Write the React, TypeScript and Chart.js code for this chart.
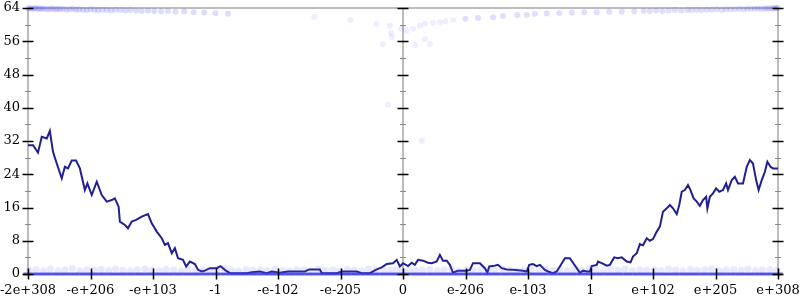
import React, { useEffect, useRef } from "react";
import { Chart, registerables } from "chart.js";

Chart.register(...registerables);

// Tick labels of the x axis (one per integer position -6..6)
const X_LABELS = ["-2e+308", "-e+206", "-e+103", "-1", "-e-102", "-e-205", "0", "e-206", "e-103", "1", "e+102", "e+205", "e+308"];

// Main line series
const LINE_X = [-6.0, -5.92, -5.84, -5.78, -5.7, -5.65, -5.6, -5.54, -5.46, -5.41, -5.36, -5.3, -5.23, -5.17, -5.09, -5.05, -4.98, -4.9, -4.82, -4.74, -4.66, -4.61, -4.55, -4.53, -4.45, -4.4, -4.34, -4.27, -4.18, -4.08, -4.02, -3.94, -3.86, -3.81, -3.76, -3.7, -3.65, -3.6, -3.52, -3.47, -3.41, -3.33, -3.28, -3.22, -3.17, -3.09, -2.98, -2.92, -2.85, -2.77, -2.5, -2.42, -2.29, -2.18, -2.1, -1.97, -1.84, -1.57, -1.5, -1.33, -1.3, -1.06, -0.98, -0.74, -0.66, -0.53, -0.42, -0.34, -0.26, -0.16, -0.1, -0.05, 0.0, 0.08, 0.14, 0.19, 0.24, 0.32, 0.4, 0.46, 0.54, 0.59, 0.64, 0.7, 0.75, 0.8, 0.88, 1.02, 1.07, 1.12, 1.23, 1.31, 1.35, 1.38, 1.44, 1.52, 1.58, 1.66, 1.76, 1.92, 1.98, 2.02, 2.08, 2.14, 2.19, 2.27, 2.32, 2.4, 2.46, 2.51, 2.59, 2.67, 2.72, 2.78, 2.83, 2.88, 2.94, 2.99, 3.02, 3.1, 3.12, 3.18, 3.26, 3.31, 3.38, 3.44, 3.5, 3.58, 3.64, 3.68, 3.74, 3.79, 3.84, 3.9, 3.95, 4.0, 4.06, 4.11, 4.16, 4.22, 4.27, 4.32, 4.38, 4.42, 4.46, 4.51, 4.56, 4.6, 4.65, 4.7, 4.75, 4.8, 4.85, 4.87, 4.91, 4.96, 5.01, 5.06, 5.12, 5.17, 5.2, 5.26, 5.31, 5.36, 5.44, 5.5, 5.55, 5.6, 5.65, 5.69, 5.74, 5.79, 5.83, 5.88, 5.92, 6.0];
const LINE_Y = [31.0, 31.0, 29.2, 33.0, 32.6, 34.4, 29.4, 26.6, 23.0, 25.8, 25.4, 27.3, 27.3, 25.4, 20.2, 21.8, 19.0, 22.2, 19.0, 17.4, 17.8, 18.2, 16.2, 12.6, 11.8, 11.0, 12.6, 13.0, 13.8, 14.4, 12.2, 10.2, 8.6, 7.0, 7.4, 5.0, 6.2, 3.8, 3.4, 1.8, 3.0, 2.4, 1.0, 0.6, 0.8, 1.4, 1.4, 1.9, 1.0, 0.2, 0.2, 0.4, 0.6, 0.2, 0.6, 0.3, 0.6, 0.6, 1.1, 1.1, 0.2, 0.2, 0.6, 0.6, 0.2, 0.2, 1.1, 1.6, 2.4, 2.6, 3.4, 1.8, 2.6, 1.9, 2.7, 2.2, 3.4, 3.2, 2.7, 2.6, 3.0, 4.6, 3.2, 3.2, 2.2, 0.3, 0.8, 0.8, 1.0, 2.6, 2.6, 1.4, 0.3, 1.8, 1.9, 2.2, 1.4, 1.1, 1.0, 0.8, 0.6, 2.2, 2.4, 1.9, 2.2, 1.0, 0.6, 0.2, 0.6, 1.8, 3.8, 3.8, 2.7, 1.4, 0.3, 0.8, 0.6, 0.6, 1.9, 2.2, 3.0, 2.6, 2.0, 2.2, 4.0, 3.8, 4.0, 3.0, 2.8, 4.2, 5.0, 7.2, 6.9, 8.6, 8.0, 8.4, 10.2, 11.4, 15.0, 15.8, 16.6, 15.8, 14.4, 16.6, 19.8, 20.2, 21.4, 20.2, 18.2, 17.4, 16.4, 17.8, 18.6, 15.8, 18.6, 19.4, 20.6, 19.8, 20.2, 21.8, 20.2, 22.6, 23.4, 21.8, 21.8, 25.8, 27.4, 26.6, 22.6, 20.2, 22.6, 24.6, 27.0, 25.8, 25.4, 25.4];

// Faint sample cloud: the row of samples at zero
const ZERO_ROW_X = [-6, -5.85, -5.7, -5.55, -5.4, -5.25, -5.1, -4.95, -4.8, -4.65, -4.5, -4.35, -4.2, -4.05, -3.9, -3.75, -3.6, -3.45, -3.3, -3.15, -3, -2.85, -2.7, -2.55, -2.4, -2.25, -2.1, -1.95, -1.8, -1.65, -1.5, -1.35, -1.2, -1.05, -0.9, -0.75, -0.6, -0.45, -0.3, -0.15, 0, 0.15, 0.3, 0.45, 0.6, 0.75, 0.9, 1.05, 1.2, 1.35, 1.5, 1.65, 1.8, 1.95, 2.1, 2.25, 2.4, 2.55, 2.7, 2.85, 3, 3.15, 3.3, 3.45, 3.6, 3.75, 3.9, 4.05, 4.2, 4.35, 4.5, 4.65, 4.8, 4.95, 5.1, 5.25, 5.4, 5.55, 5.7, 5.85, 6];
const ZERO_ROW_Y = 0;

// Faint sample cloud: samples just above zero
const LOW_X = [-5.98, -5.87, -5.75, -5.64, -5.52, -5.41, -5.29, -5.17, -5.06, -4.94, -4.83, -4.71, -4.6, -4.48, -4.36, -4.25, -4.13, -4.02, -3.9, -3.79, -3.67, -3.55, -3.44, -3.32, -3.21, -3.09, -2.98, -2.86, -2.74, -2.63, -2.51, -2.4, -2.28, -2.17, -2.05, -1.93, -1.82, -1.7, -1.59, -1.47, -1.36, -1.24, -1.12, -1.01, -0.89, -0.78, -0.66, -0.55, -0.43, -0.31, -0.2, -0.1, 0, 0.1, 0.2, 0.31, 0.43, 0.55, 0.66, 0.78, 0.89, 1.01, 1.12, 1.24, 1.36, 1.47, 1.59, 1.7, 1.82, 1.93, 2.05, 2.17, 2.28, 2.4, 2.51, 2.63, 2.74, 2.86, 2.98, 3.09, 3.21, 3.32, 3.44, 3.55, 3.67, 3.79, 3.9, 4.02, 4.13, 4.25, 4.36, 4.48, 4.6, 4.71, 4.83, 4.94, 5.06, 5.17, 5.29, 5.41, 5.52, 5.64, 5.75, 5.87, 5.98];
const LOW_Y = [0.9, 1.1, 0.7, 1.2, 0.8, 1.0, 1.3, 0.8, 1.0, 0.9, 1.1, 0.8, 1.2, 0.9, 0.7, 1.0, 1.2, 0.9, 0.8, 1.1, 1.0, 0.7, 1.2, 0.9, 1.1, 0.8, 1.0, 1.3, 0.9, 0.7, 1.1, 0.9, 1.0, 0.8, 1.2, 0.9, 0.7, 1.1, 1.0, 0.8, 1.2, 0.9, 1.0, 0.7, 1.1, 0.9, 0.8, 1.2, 1.0, 0.9, 0.9, 1.0, 0.8, 1.1, 0.9, 0.9, 1.1, 0.8, 1.0, 1.2, 0.7, 1.0, 0.9, 1.1, 0.8, 1.0, 1.2, 0.9, 0.7, 1.1, 1.0, 0.8, 1.2, 0.9, 1.0, 0.8, 1.1, 0.9, 1.3, 1.0, 0.7, 1.1, 0.9, 1.2, 0.8, 1.0, 0.9, 1.1, 0.8, 1.2, 1.0, 0.7, 1.1, 0.9, 1.0, 1.2, 0.8, 1.0, 1.1, 0.9, 1.2, 0.8, 1.0, 1.1, 0.9];

// Faint sample cloud: top row, left part
const TOP_LEFT_X = [-6, -5.97, -5.94, -5.91, -5.88, -5.85, -5.82, -5.79, -5.76, -5.72, -5.68, -5.64, -5.6, -5.56, -5.52, -5.48, -5.43, -5.38, -5.33, -5.28, -5.23, -5.18, -5.12, -5.06, -5.0, -4.94, -4.88, -4.81, -4.74, -4.67, -4.6, -4.52, -4.44, -4.36, -4.27, -4.18, -4.08, -3.98, -3.87, -3.76, -3.64, -3.5, -3.35, -3.18, -3.0, -2.8];
const TOP_LEFT_Y = [63.9, 64, 63.8, 63.9, 64, 63.8, 63.9, 63.8, 63.9, 63.8, 63.7, 63.9, 63.8, 63.7, 63.8, 63.7, 63.8, 63.6, 63.7, 63.8, 63.6, 63.7, 63.6, 63.5, 63.7, 63.6, 63.5, 63.6, 63.5, 63.4, 63.6, 63.5, 63.4, 63.5, 63.4, 63.3, 63.4, 63.3, 63.2, 63.3, 63.1, 63.2, 63.0, 62.9, 62.8, 62.6];

// Faint sample cloud: top row, right part
const TOP_RIGHT_X = [1.0, 1.2, 1.44, 1.6, 1.83, 1.98, 2.11, 2.3, 2.5, 2.7, 2.9, 3.1, 3.3, 3.5, 3.7, 3.85, 3.95, 4.05, 4.15, 4.25, 4.35, 4.45, 4.55, 4.62, 4.7, 4.78, 4.86, 4.94, 5.02, 5.1, 5.17, 5.24, 5.31, 5.38, 5.45, 5.51, 5.57, 5.63, 5.68, 5.73, 5.78, 5.82, 5.86, 5.9, 5.93, 5.96, 5.98, 6];
const TOP_RIGHT_Y = [61.4, 61.6, 61.8, 62.1, 62.3, 62.3, 62.6, 62.7, 62.8, 62.9, 63.0, 63.0, 63.1, 63.1, 63.2, 63.3, 63.3, 63.4, 63.3, 63.4, 63.5, 63.4, 63.5, 63.5, 63.6, 63.5, 63.6, 63.6, 63.7, 63.6, 63.7, 63.7, 63.7, 63.8, 63.7, 63.8, 63.8, 63.8, 63.9, 63.8, 63.9, 63.9, 63.9, 64, 63.9, 64, 64, 64];

// Faint sample cloud: scattered samples near the centre
const ARC_X = [-1.42, -0.84, -0.42, -0.21, -0.19, -0.18, -0.32, -0.24, -0.03, 0.06, 0.16, 0.19, 0.27, 0.3, 0.35, 0.35, 0.43, 0.48, 0.59, 0.68, 0.8];
const ARC_Y = [61.9, 61.1, 60.2, 59.7, 58.0, 57.0, 55.3, 40.7, 59.0, 58.5, 59.0, 55.1, 59.7, 32.0, 60.2, 56.5, 55.3, 60.4, 60.6, 60.8, 61.1];

const Y_MIN = 0;
const Y_MAX = 64;
const Y_STEP = 4;

const FONT = { family: "'DejaVu Serif', serif", size: 13 };

const pairs = (xs: number[], ys: number[]) => xs.map((x, i) => ({ x, y: ys[i] }));

const axisPlugin = {
  id: "axisDecor",
  beforeDatasetsDraw(chart: any) {
    const { ctx, chartArea, scales } = chart;
    const cx = scales.x.getPixelForValue(0);
    ctx.save();
    ctx.strokeStyle = "#bcbcbc";
    ctx.lineWidth = 2;
    ctx.beginPath();
    [chartArea.left, cx, chartArea.right].forEach((x: number) => {
      ctx.moveTo(x, chartArea.top);
      ctx.lineTo(x, chartArea.bottom);
    });
    ctx.moveTo(chartArea.left, chartArea.top);
    ctx.lineTo(chartArea.right, chartArea.top);
    ctx.moveTo(chartArea.left, chartArea.bottom);
    ctx.lineTo(chartArea.right, chartArea.bottom);
    ctx.stroke();
    ctx.restore();
  },
  afterDatasetsDraw(chart: any) {
    const { ctx, chartArea, scales } = chart;
    const cx = scales.x.getPixelForValue(0);
    const xs = [chartArea.left, cx, chartArea.right];
    ctx.save();
    for (let v = Y_MIN; v <= Y_MAX; v += Y_STEP) {
      const y = Math.round(scales.y.getPixelForValue(v)) + 0.5;
      const major = v % 8 === 0;
      ctx.strokeStyle = major ? "#000" : "#888";
      ctx.lineWidth = major ? 1.5 : 1;
      const half = major ? 5.5 : 3;
      ctx.beginPath();
      xs.forEach((x: number) => {
        ctx.moveTo(x - half, y);
        ctx.lineTo(x + half, y);
      });
      ctx.stroke();
    }
    ctx.strokeStyle = "#000";
    ctx.lineWidth = 1.5;
    ctx.beginPath();
    for (let i = 0; i < X_LABELS.length; i++) {
      const x = Math.round(scales.x.getPixelForValue(i - 6)) + 0.5;
      ctx.moveTo(x, chartArea.bottom - 5.5);
      ctx.lineTo(x, chartArea.bottom + 5.5);
    }
    ctx.stroke();
    ctx.restore();
  },
};

const faint = {
  pointRadius: 3,
  pointBorderWidth: 0,
  pointBorderColor: "rgba(90,90,255,0)",
  pointBackgroundColor: "rgba(90,90,255,0.13)",
  showLine: false,
  clip: false as const,
};

export default function App() {
  const ref = useRef<HTMLCanvasElement>(null);
  useEffect(() => {
    if (!ref.current) return;
    const chart = new Chart(ref.current, {
      type: "scatter",
      data: {
        datasets: [
          { label: "low", data: pairs(LOW_X, LOW_Y), ...faint, pointRadius: 3.5, pointBackgroundColor: "rgba(90,90,255,0.14)" },
          {
            label: "zero",
            data: ZERO_ROW_X.map((x) => ({ x, y: ZERO_ROW_Y })),
            pointStyle: "line",
            pointRadius: 4.7,
            pointBorderWidth: 3,
            pointBorderColor: "rgba(55,55,235,0.8)",
            pointBackgroundColor: "rgba(55,55,235,0.8)",
            showLine: false,
            clip: false,
          },
          { label: "topLeft", data: pairs(TOP_LEFT_X, TOP_LEFT_Y), ...faint, pointBackgroundColor: "rgba(80,80,245,0.2)" },
          { label: "topRight", data: pairs(TOP_RIGHT_X, TOP_RIGHT_Y), ...faint, pointBackgroundColor: "rgba(80,80,245,0.18)" },
          { label: "arc", data: pairs(ARC_X, ARC_Y), ...faint, pointBackgroundColor: "rgba(90,90,255,0.1)" },
          {
            label: "line",
            data: pairs(LINE_X, LINE_Y),
            showLine: true,
            borderColor: "#202090",
            borderWidth: 2,
            pointRadius: 0,
            tension: 0,
            clip: false,
          },
        ],
      },
      options: {
        animation: false,
        responsive: false,
        devicePixelRatio: 1,
        layout: { padding: { top: 8, right: 22, left: 0, bottom: 0 } },
        plugins: { legend: { display: false }, tooltip: { enabled: false } },
        scales: {
          x: {
            type: "linear",
            min: -6,
            max: 6,
            grid: { display: false, drawTicks: false },
            border: { display: false },
            ticks: {
              stepSize: 1,
              autoSkip: false,
              maxRotation: 0,
              padding: 9,
              color: "#000",
              font: FONT,
              callback: (v: any) => X_LABELS[Math.round(Number(v)) + 6] ?? "",
            },
            afterFit: (s: any) => {
              s.height = 26;
              s.paddingLeft = 0;
              s.paddingRight = 0;
            },
          },
          y: {
            type: "linear",
            min: Y_MIN,
            max: Y_MAX,
            grid: { display: false, drawTicks: false },
            border: { display: false },
            ticks: {
              stepSize: Y_STEP,
              autoSkip: false,
              padding: 8,
              color: "#000",
              font: FONT,
              callback: (v: any) => (Number(v) % 8 === 0 ? String(v) : ""),
            },
            afterFit: (s: any) => {
              s.width = 28;
              s.paddingTop = 0;
              s.paddingBottom = 0;
            },
          },
        },
      },
      plugins: [axisPlugin],
    });
    return () => chart.destroy();
  }, []);
  return (
    <div style={{ position: "absolute", left: 0, top: 0, width: 800, height: 300, background: "#fff" }}>
      <canvas ref={ref} width={800} height={300} />
    </div>
  );
}
